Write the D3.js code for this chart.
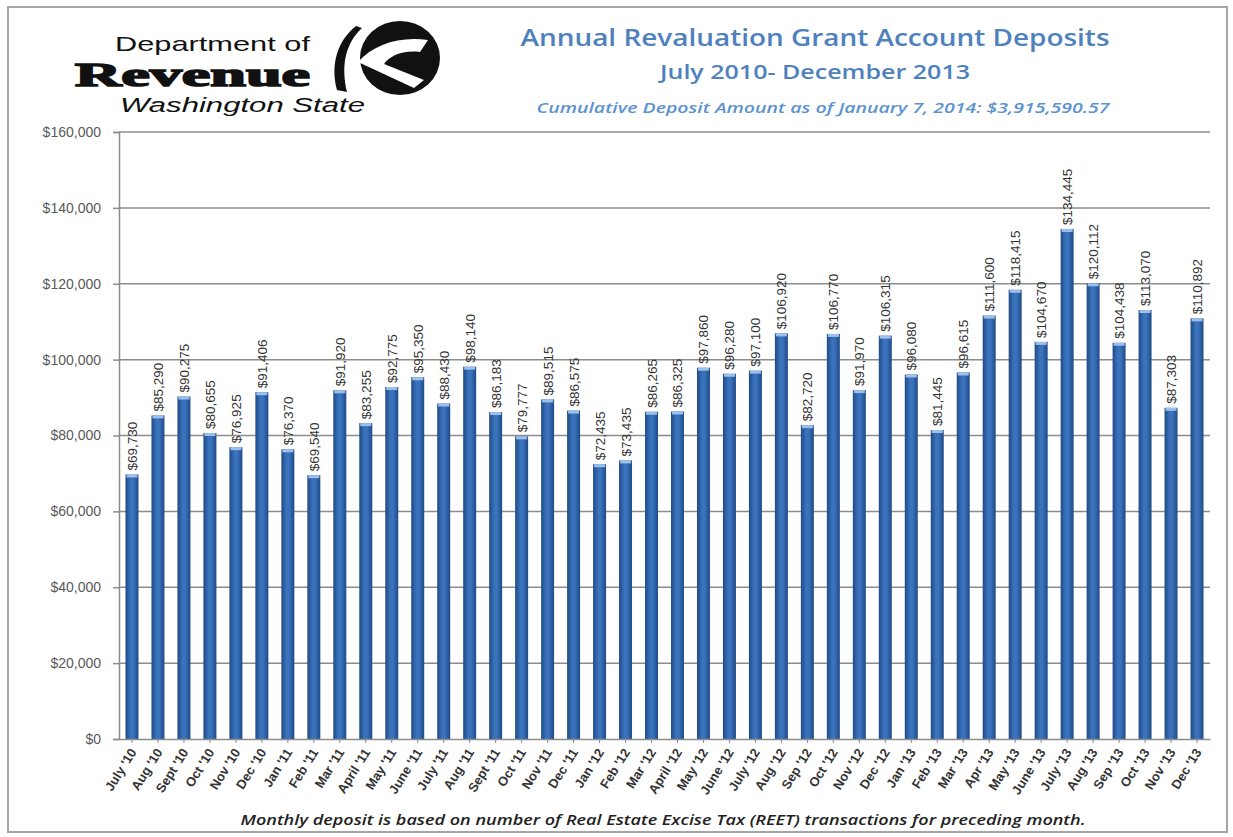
<!DOCTYPE html>
<html><head><meta charset="utf-8">
<script src="https://cdn.jsdelivr.net/npm/d3@7"></script>
<style>body{margin:0;background:#fff;}svg{display:block;}</style>
</head><body>
<svg id="chart" width="1233" height="837"></svg>
<script>
const categories = ["July '10","Aug '10","Sept '10","Oct '10","Nov '10","Dec '10","Jan '11","Feb '11","Mar '11","April '11","May '11","June '11","July '11","Aug '11","Sept '11","Oct '11","Nov '11","Dec '11","Jan '12","Feb '12","Mar '12","April '12","May '12","June '12","July '12","Aug '12","Sep '12","Oct '12","Nov '12","Dec '12","Jan '13","Feb '13","Mar '13","Apr '13","May '13","June '13","July '13","Aug '13","Sep '13","Oct '13","Nov '13","Dec '13"];
const deposits = [69730,85290,90275,80655,76925,91406,76370,69540,91920,83255,92775,95350,88430,98140,86183,79777,89515,86575,72435,73435,86265,86325,97860,96280,97100,106920,82720,106770,91970,106315,96080,81445,96615,111600,118415,104670,134445,120112,104438,113070,87303,110892];
const yTicks = [0,20000,40000,60000,80000,100000,120000,140000,160000];

(function(){
const svg = d3.select("#chart");
const font = "'Liberation Sans', Arial, sans-serif";
const fontC = "'Open Sans', 'Liberation Sans', sans-serif";

// outer frame
svg.append("rect").attr("x",8).attr("y",7).attr("width",1219).attr("height",825)
  .attr("fill","none").attr("stroke","#a6a6a6").attr("stroke-width",2);

const defs = svg.append("defs");
const grad = defs.append("linearGradient").attr("id","barGrad").attr("x1","0").attr("x2","1").attr("y1","0").attr("y2","0");
grad.append("stop").attr("offset","0%").attr("stop-color","#1f4a86");
grad.append("stop").attr("offset","40%").attr("stop-color","#3a72bc");
grad.append("stop").attr("offset","60%").attr("stop-color","#3a72bc");
grad.append("stop").attr("offset","100%").attr("stop-color","#1f4a86");

const pL = 119, pR = 1210, pT = 132, pB = 739;
const x = d3.scaleBand().domain(categories).range([pL,pR]).paddingInner(0.5).paddingOuter(0.25);
const y = d3.scaleLinear().domain([0,160000]).range([pB,pT]);

// gridlines
svg.append("g").selectAll("line").data(yTicks.filter(d=>d>0)).join("line")
  .attr("x1",pL).attr("x2",pR).attr("y1",d=>y(d)).attr("y2",d=>y(d))
  .attr("stroke","#8c8c8c").attr("stroke-width",1.5);

// y axis
const yAxis = svg.append("g").attr("transform",`translate(${pL},0)`)
  .call(d3.axisLeft(y).tickValues(yTicks).tickSize(6).tickPadding(12).tickFormat(d=>"$"+d3.format(",")(d)));
yAxis.select(".domain").attr("stroke","#8c8c8c").attr("stroke-width",1.5);
yAxis.selectAll(".tick line").attr("stroke","#8c8c8c").attr("stroke-width",1.5);
yAxis.selectAll("text").attr("font-family",font).attr("font-size",14).attr("fill","#595959");

// bars
const data = categories.map((c,i)=>({c, v:deposits[i]}));
svg.append("g").selectAll("rect").data(data).join("rect")
  .attr("x",d=>x(d.c)).attr("width",x.bandwidth())
  .attr("y",d=>y(d.v)).attr("height",d=>pB-y(d.v))
  .attr("fill","url(#barGrad)");
svg.append("g").selectAll("rect").data(data).join("rect")
  .attr("x",d=>x(d.c)+1).attr("width",x.bandwidth()-2)
  .attr("y",d=>y(d.v)).attr("height",3)
  .attr("fill","#9cc0ea");

// x axis
const xAxis = svg.append("g").attr("transform",`translate(0,${pB})`)
  .call(d3.axisBottom(x).tickSize(4).tickSizeOuter(0));
xAxis.select(".domain").attr("stroke","#8c8c8c").attr("stroke-width",1.5);
xAxis.selectAll(".tick line").attr("stroke","#8c8c8c");
xAxis.selectAll("text").attr("font-family",font).attr("font-size",13).attr("fill","#333").attr("font-weight","bold")
  .attr("text-anchor","end").attr("dy",0).attr("dx",0).attr("y",0)
  .attr("transform","translate(5,13) rotate(-58)");

// value labels
svg.append("g").selectAll("text").data(data).join("text")
  .attr("transform",d=>`translate(${x(d.c)+x.bandwidth()/2+5},${y(d.v)-4}) rotate(-90)`)
  .attr("font-family",font).attr("font-size",13.5).attr("fill","#333")
  .text(d=>"$"+d3.format(",")(d.v));

// titles
const tc = 815;
svg.append("text").attr("x",tc).attr("y",46).attr("text-anchor","middle")
  .attr("font-family",fontC).attr("font-size",24).attr("font-weight","600").attr("fill","#4f81bd")
  .attr("textLength",589).attr("lengthAdjust","spacingAndGlyphs")
  .text("Annual Revaluation Grant Account Deposits");
svg.append("text").attr("x",tc).attr("y",79).attr("text-anchor","middle")
  .attr("font-family",fontC).attr("font-size",19).attr("font-weight","600").attr("fill","#4f81bd")
  .attr("textLength",310).attr("lengthAdjust","spacingAndGlyphs")
  .text("July 2010- December 2013");
svg.append("text").attr("x",823).attr("y",113).attr("text-anchor","middle")
  .attr("font-family",fontC).attr("font-size",14).attr("font-weight","600").attr("font-style","italic").attr("fill","#5b93d0")
  .attr("textLength",573).attr("lengthAdjust","spacingAndGlyphs")
  .text("Cumulative Deposit Amount as of January 7, 2014: $3,915,590.57");

// footer
svg.append("text").attr("x",663).attr("y",825).attr("text-anchor","middle")
  .attr("font-family",fontC).attr("font-size",15).attr("font-weight","600").attr("font-style","italic").attr("fill","#222")
  .attr("textLength",845).attr("lengthAdjust","spacingAndGlyphs")
  .text("Monthly deposit is based on number of Real Estate Excise Tax (REET) transactions for preceding month.");

// logo
const logo = svg.append("g");
logo.append("text").attr("x",310).attr("y",51).attr("text-anchor","end")
  .attr("font-family",font).attr("font-size",21).attr("fill","#111")
  .attr("textLength",195).attr("lengthAdjust","spacingAndGlyphs").text("Department of");
logo.append("text").attr("x",310).attr("y",86).attr("text-anchor","end")
  .attr("font-family","'Liberation Serif', serif").attr("font-size",34).attr("font-weight","bold").attr("fill","#111")
  .attr("stroke","#111").attr("stroke-width",1.6)
  .attr("textLength",235).attr("lengthAdjust","spacingAndGlyphs").text("Revenue");
logo.append("text").attr("x",365).attr("y",112).attr("text-anchor","end")
  .attr("font-family",font).attr("font-size",20).attr("font-style","italic").attr("fill","#111")
  .attr("textLength",245).attr("lengthAdjust","spacingAndGlyphs").text("Washington State");
// emblem
logo.append("path").attr("d","M356,26 C338,40 330,64 337,90 L347,92 C341,66 345,44 362,28 Z").attr("fill","#111");
logo.append("ellipse").attr("cx",400).attr("cy",58).attr("rx",40).attr("ry",37).attr("fill","#111");
logo.append("path").attr("d","M358,62 C374,44 400,36 428,40 L420,52 C402,50 390,56 384,64 L424,80 L414,88 Z").attr("fill","#fff");
})();
</script>
</body></html>
